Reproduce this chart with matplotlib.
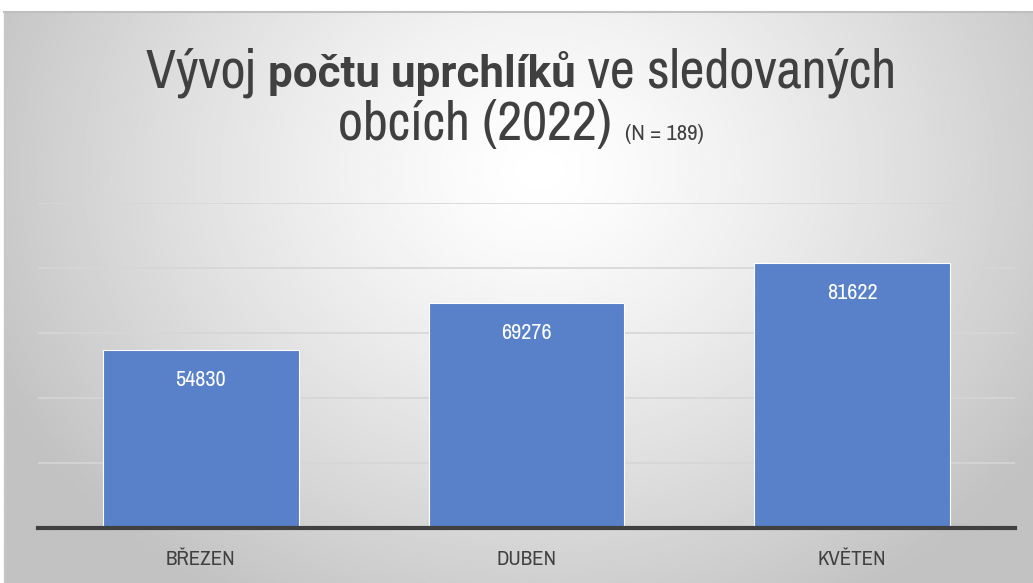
import numpy as np
import matplotlib
matplotlib.use("Agg")
import matplotlib.pyplot as plt
from matplotlib import font_manager

# data
months = ["BŘEZEN", "DUBEN", "KVĚTEN"]
refugees = [54830, 69276, 81622]

W, H = 1033, 583
fig = plt.figure(figsize=(W / 100, H / 100), dpi=100)
fig.patch.set_facecolor("white")

# look for a narrow font, the original uses something Calibri-like
fonts = font_manager.fontManager.ttflist
narrow, stretch = "Roboto", "normal"
for f in fonts:
    if "Narrow" in f.name:
        narrow, stretch = f.name, "normal"
        break
else:
    for f in fonts:
        if f.name == "DejaVu Sans" and f.stretch == "condensed":
            narrow, stretch = "DejaVu Sans", "condensed"
            break

# background radial gradient
bg = fig.add_axes([4 / W, 0, 1 - 4 / W, 1 - 12 / H])
bg.set_axis_off()
xx, yy = np.meshgrid(np.linspace(4, W, 500), np.linspace(12, H, 300))
d = np.sqrt(((xx - 540) / 620) ** 2 + ((yy - 170) / 520) ** 2)
shade = np.clip(1.0 - 0.25 * d ** 1.3, 0.76, 1.0)
bg.imshow(shade, cmap="gray", vmin=0, vmax=1, aspect="auto",
          extent=[0, 1, 0, 1], interpolation="bilinear")
bg.set_xlim(0, 1)
bg.set_ylim(0, 1)
fig.add_artist(plt.Line2D([4 / W, 1], [1 - 12 / H, 1 - 12 / H],
                          transform=fig.transFigure, color="#bfbfbf", lw=1.5))
fig.add_artist(plt.Line2D([4 / W, 4 / W], [0, 1 - 12 / H],
                          transform=fig.transFigure, color="#c8c8c8", lw=1))

# main axes
ax = fig.add_axes([38 / W, (H - 528) / H, 977 / W, 325 / H])
ax.patch.set_alpha(0)
x = np.arange(len(months))
bars = ax.bar(x, refugees, width=0.6, color="#5881C9", edgecolor="white",
              linewidth=0.8, zorder=3)
ax.set_xlim(-0.5, 2.5)
ax.set_ylim(0, 100000)
ax.set_yticks(np.arange(0, 100001, 20000))
ax.yaxis.grid(True, color="#d6d6d6", lw=1.2, zorder=0)
ax.tick_params(left=False, labelleft=False, bottom=False)
for s in ["top", "right", "left"]:
    ax.spines[s].set_visible(False)
ax.spines["bottom"].set_color("#404040")
ax.spines["bottom"].set_linewidth(3)
ax.spines["bottom"].set_zorder(4)
ax.set_xticks(x)
ax.set_xticklabels(months, fontsize=15, color="#404040", family=narrow,
                   fontstretch=stretch)
ax.tick_params(axis="x", pad=12)

for b, v in zip(bars, refugees):
    ax.annotate(str(v), (b.get_x() + b.get_width() / 2, v),
                xytext=(0, -30), textcoords="offset pixels",
                ha="center", va="center", color="white", fontsize=16,
                family=narrow, fontstretch=stretch, zorder=5)

# title with mixed weight; each piece sized to the width seen in the original
fig.canvas.draw()
r = fig.canvas.get_renderer()


def piece(s, fam, w, target, y):
    t = fig.text(0, y, s, fontsize=40, fontweight=w, family=fam,
                 fontstretch=stretch if fam == narrow else "normal",
                 color="#404040", va="baseline", ha="left")
    t.set_fontsize(40 * target / t.get_window_extent(r).width)
    return t


def place(texts, y_center_x):
    widths = [t.get_window_extent(r).width for t in texts]
    x0 = (y_center_x - sum(widths) / 2) / W
    for t, wd in zip(texts, widths):
        t.set_x(x0)
        x0 += wd / W


y1 = 1 - 87 / H
y2 = 1 - 140 / H
line1 = [piece("Vývoj ", narrow, "normal", 122, y1),
         piece("počtu uprchlíků", "Roboto", "bold", 308, y1),
         piece(" ve sledovaných", narrow, "normal", 315, y1)]
size_big = line1[0].get_fontsize()
line1[2].set_fontsize(size_big)
place(line1, 521)

line2 = [fig.text(0, y2, "obcích (2022) ", fontsize=size_big, family=narrow,
                  fontstretch=stretch, color="#404040", va="baseline"),
         fig.text(0, y2, "(N = 189)", fontsize=size_big * 0.42, family=narrow,
                  fontstretch=stretch, color="#404040", va="baseline")]
place(line2, 521)

fig.savefig("out.png", dpi=100)
